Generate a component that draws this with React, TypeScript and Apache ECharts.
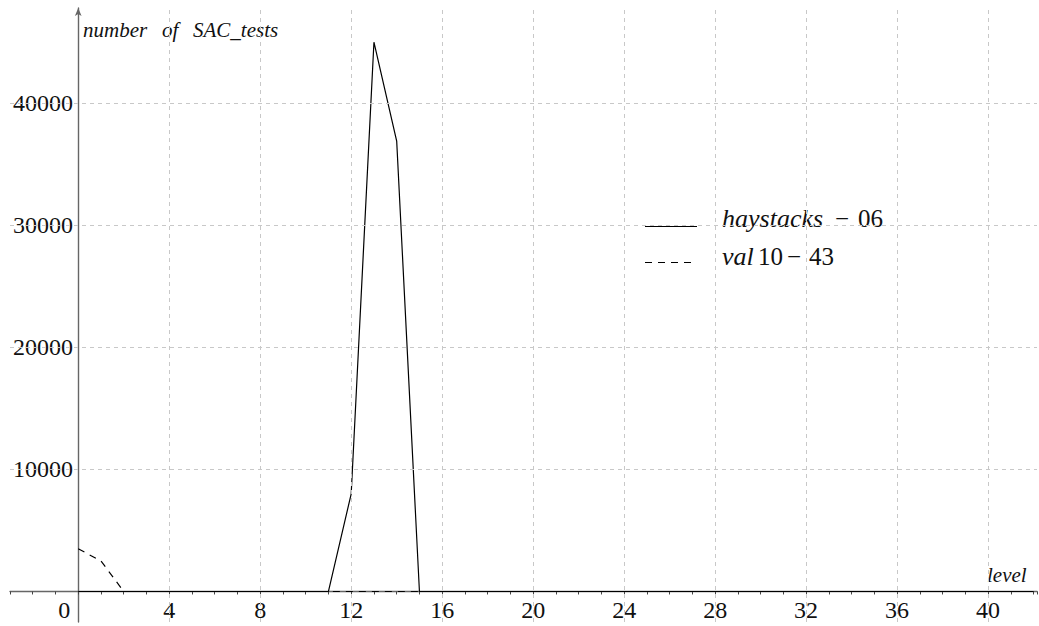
import React, { useEffect, useRef } from "react";
import * as echarts from "echarts";

const levels = [0, 1, 2, 3, 4, 5, 6, 7, 8, 9, 10, 11, 12, 13, 14, 15, 16, 17, 18, 19, 20, 21, 22, 23, 24, 25, 26, 27, 28, 29, 30, 31, 32, 33, 34, 35, 36, 37, 38, 39, 40, 41, 42];
const haystacks06 = [0, 0, 0, 0, 0, 0, 0, 0, 0, 0, 0, 0, 8000, 45000, 36900, 0, 0, 0, 0, 0, 0, 0, 0, 0, 0, 0, 0, 0, 0, 0, 0, 0, 0, 0, 0, 0, 0, 0, 0, 0, 0, 0, 0];
const val1043 = [3500, 2500, 0, 0, 0, 0, 0, 0, 0, 0, 0, 0, 0, 0, 0, 0, 0, 0, 0, 0, 0, 0, 0, 0, 0, 0, 0, 0, 0, 0, 0, 0, 0, 0, 0, 0, 0, 0, 0, 0, 0, 0, 0];
const xTickLabels = [0, 4, 8, 12, 16, 20, 24, 28, 32, 36, 40];
const xGridValues = [4, 8, 12, 16, 20, 24, 28, 32, 36, 40];
const yTickLabels = [10000, 20000, 30000, 40000];

const SERIF = "Liberation Serif";

export default function App() {
  const ref = useRef<HTMLDivElement>(null);
  useEffect(() => {
    if (!ref.current) return;
    const chart = echarts.init(ref.current, undefined, { renderer: "svg" });
    const gridMarks = [
      ...xGridValues.map((v) => ({ xAxis: v })),
      ...yTickLabels.map((v) => ({ yAxis: v })),
    ];
    const italic = (size: number) => ({ fontStyle: "italic", fontSize: size, fontFamily: SERIF, fill: "#111" });
    const upright = (size: number) => ({ fontSize: size, fontFamily: SERIF, fill: "#111" });
    chart.setOption({
      animation: false,
      backgroundColor: "#ffffff",
      grid: { left: 10, right: 2, top: 8, bottom: 4, containLabel: false, outerBoundsMode: "none" },
      xAxis: {
        type: "value",
        min: -3,
        max: 42.15,
        interval: 1,
        axisLine: { onZero: true, lineStyle: { color: "#666", width: 1.4 } },
        axisTick: { show: true, length: 3, lineStyle: { color: "#444", width: 1 } },
        axisLabel: {
          margin: -24,
          fontSize: 24,
          fontFamily: SERIF,
          color: "#111",
          formatter: (v: number) =>
            v === 0 ? "{z|0}" : xTickLabels.includes(v) ? String(v) : "",
          rich: { z: { padding: [0, 28, 0, 0], fontSize: 24, fontFamily: SERIF, color: "#111" } },
        },
        splitLine: { show: false },
      },
      yAxis: {
        type: "value",
        min: -2500,
        max: 47800,
        interval: 2500,
        axisLine: {
          show: true,
          onZero: true,
          symbol: ["none", "arrow"],
          symbolSize: [5, 8],
          lineStyle: { color: "#666", width: 1.4 },
        },
        axisTick: { show: false },
        axisLabel: {
          margin: -63,
          fontSize: 24,
          fontFamily: SERIF,
          color: "#111",
          formatter: (v: number) => (yTickLabels.includes(v) ? String(v) : ""),
        },
        splitLine: { show: false },
      },
      series: [
        {
          name: "grid",
          type: "line",
          data: [],
          silent: true,
          markLine: {
            silent: true,
            symbol: "none",
            label: { show: false },
            lineStyle: { color: "#c8c8c8", type: [4, 4], width: 1 },
            data: gridMarks,
          },
        },
        {
          name: "haystacks-06",
          type: "line",
          data: levels.map((l, i) => [l, haystacks06[i]]),
          showSymbol: false,
          symbol: "none",
          lineStyle: { color: "#000", width: 1.2 },
        },
        {
          name: "val10-43",
          type: "line",
          data: levels.map((l, i) => [l, val1043[i]]),
          showSymbol: false,
          symbol: "none",
          lineStyle: { color: "#000", width: 1.2, type: [7, 6] },
        },
      ],
      graphic: [
        {
          type: "text",
          x: 83,
          y: 30,
          style: {
            text: "{a|number}{b|of}{c|SAC_tests}",
            verticalAlign: "middle",
            rich: {
              a: { ...italic(21), width: 79 },
              b: { ...italic(21), width: 31 },
              c: italic(21),
            },
          },
        },
        {
          type: "text",
          x: 987,
          y: 575,
          style: { text: "level", verticalAlign: "middle", ...italic(21) },
        },
        {
          type: "line",
          shape: { x1: 645, y1: 226.5, x2: 697, y2: 226.5 },
          style: { stroke: "#000", lineWidth: 1.2 },
        },
        {
          type: "line",
          shape: { x1: 645, y1: 262.5, x2: 694, y2: 262.5 },
          style: { stroke: "#000", lineWidth: 1.2, lineDash: [7, 6] },
        },
        {
          type: "text",
          x: 722,
          y: 218,
          style: {
            text: "{a|haystacks}{m|−}{n|06}",
            verticalAlign: "middle",
            rich: {
              a: { ...italic(26), width: 113 },
              m: { ...upright(25), width: 23 },
              n: upright(25),
            },
          },
        },
        {
          type: "text",
          x: 722,
          y: 256,
          style: {
            text: "{a|val}{b|10}{m|−}{n|43}",
            verticalAlign: "middle",
            rich: {
              a: { ...italic(26), width: 36 },
              b: { ...upright(25), width: 29 },
              m: { ...upright(25), width: 22 },
              n: upright(25),
            },
          },
        },
      ],
    });
    return () => chart.dispose();
  }, []);
  return (
    <div
      ref={ref}
      style={{ position: "fixed", left: 0, top: 0, width: 1039, height: 626, background: "#fff" }}
    />
  );
}
